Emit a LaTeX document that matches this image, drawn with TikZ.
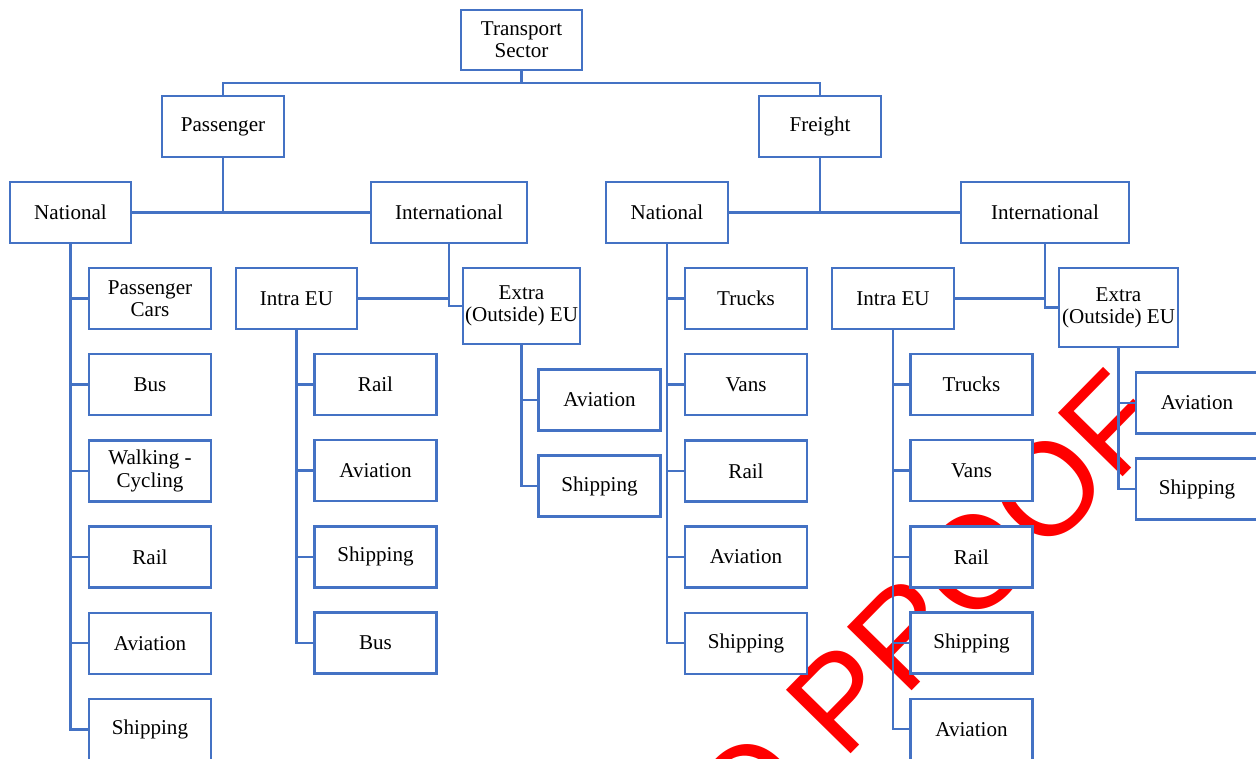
\documentclass[tikz,border=0pt]{standalone}
\usepackage{fontspec}
\setmainfont{Liberation Serif}
\newfontfamily\wmfont{Liberation Sans}
\usetikzlibrary{positioning,calc}
\definecolor{boxblue}{HTML}{4472C4}
\definecolor{proofred}{HTML}{FF0000}
\tikzset{
  box style/.style={rectangle, draw=boxblue, line width=1.4pt, fill=white, outer sep=0pt,
    minimum width=2.44cm, minimum height=1.22cm, inner sep=1pt, align=center,
    font=\fontsize{12}{12.7}\selectfont},
  ln style/.style={draw=boxblue, line width=1.4pt},
  wm style/.style={text=proofred, inner sep=0pt, font=\wmfont\fontsize{75}{75}\selectfont}
}

\begin{document}
\begin{tikzpicture}[x=0.02cm, y=-0.02cm, node distance=0.504cm]
\useasboundingbox (0,0) rectangle (1256,758);
% watermark sits under the boxes
\node[wm style, rotate=45.5, anchor=base east] (wm) at (1172,427) {O PROOF};

% top levels
\node[box style, minimum width=2.42cm, minimum height=1.2cm] (ts) at (521.5,40) {Transport\\Sector};
\node[box style] (pas) at (223,126.5) {Passenger};
\node[box style] (frt) at (820,126.5) {Freight};
\node[box style, minimum width=2.42cm] (pnat) at (70.5,212.5) {National};
\node[box style, minimum width=3.12cm] (pint) at (449,212.5) {International};
\node[box style] (fnat) at (667,212.5) {National};
\node[box style, minimum width=3.36cm] (fint) at (1045,212.5) {International};

% passenger, national
\node[box style] (pcar) at (150,298.5) {Passenger\\Cars};
\node[box style, below=of pcar] (pbus) {Bus};
\node[box style, below=of pbus] (pwalk) {Walking -\\Cycling};
\node[box style, below=of pwalk] (prail) {Rail};
\node[box style, below=of prail] (pavi) {Aviation};
\node[box style, below=of pavi] (pship) {Shipping};

% passenger, international
\node[box style, minimum width=2.42cm] (pintra) at (296.5,298.5) {Intra EU};
\node[box style, minimum width=2.34cm, minimum height=1.52cm] (pextra) at (521.5,306) {Extra\\(Outside) EU};
\node[box style] (pirail) at (375.5,384.5) {Rail};
\node[box style, below=of pirail] (piavi) {Aviation};
\node[box style, below=of piavi] (piship) {Shipping};
\node[box style, below=of piship] (pibus) {Bus};
\node[box style] (peavi) at (599.5,400) {Aviation};
\node[box style, below=of peavi] (peship) {Shipping};

% freight, national
\node[box style] (ftruck) at (746,298.5) {Trucks};
\node[box style, below=of ftruck] (fvan) {Vans};
\node[box style, below=of fvan] (frail) {Rail};
\node[box style, below=of frail] (favi) {Aviation};
\node[box style, below=of favi] (fship) {Shipping};

% freight, international
\node[box style] (fintra) at (893,298.5) {Intra EU};
\node[box style, minimum width=2.38cm, minimum height=1.58cm] (fextra) at (1118.5,307.5) {Extra\\(Outside) EU};
\node[box style] (fitruck) at (971.5,384.5) {Trucks};
\node[box style, below=of fitruck] (fivan) {Vans};
\node[box style, below=of fivan] (firail) {Rail};
\node[box style, below=of firail] (fiship) {Shipping};
\node[box style, below=of fiship] (fiavi) {Aviation};
\node[box style] (feavi) at (1197,403) {Aviation};
\node[box style, below=of feavi] (feship) {Shipping};

% connectors
\coordinate (tbus) at ($(ts.south)+(0,-0.26cm)$);
\draw[ln style] (ts.south) -- (tbus);
\draw[ln style] (pas.north) |- (tbus) -| (frt.north);
\draw[ln style] (pas.south) -- (pas.south |- pnat.east);
\draw[ln style] (pnat.east) -- (pint.west);
\draw[ln style] (frt.south) -- (frt.south |- fnat.east);
\draw[ln style] (fnat.east) -- (fint.west);
\foreach \c in {pcar,pbus,pwalk,prail,pavi,pship}
  \draw[ln style] (pnat.south) |- (\c.west);
\draw[ln style] (pint.south) |- (pextra.west);
\draw[ln style] (pintra.east) -- (pintra.east -| pint.south);
\foreach \c in {pirail,piavi,piship,pibus}
  \draw[ln style] (pintra.south) |- (\c.west);
\foreach \c in {peavi,peship}
  \draw[ln style] (pextra.south) |- (\c.west);
\foreach \c in {ftruck,fvan,frail,favi,fship}
  \draw[ln style] (fnat.south) |- (\c.west);
\draw[ln style] (fint.south) |- (fextra.west);
\draw[ln style] (fintra.east) -- (fintra.east -| fint.south);
\foreach \c in {fitruck,fivan,firail,fiship,fiavi}
  \draw[ln style] (fintra.south) |- (\c.west);
\foreach \c in {feavi,feship}
  \draw[ln style] (fextra.south) |- (\c.west);
\end{tikzpicture}
\end{document}
